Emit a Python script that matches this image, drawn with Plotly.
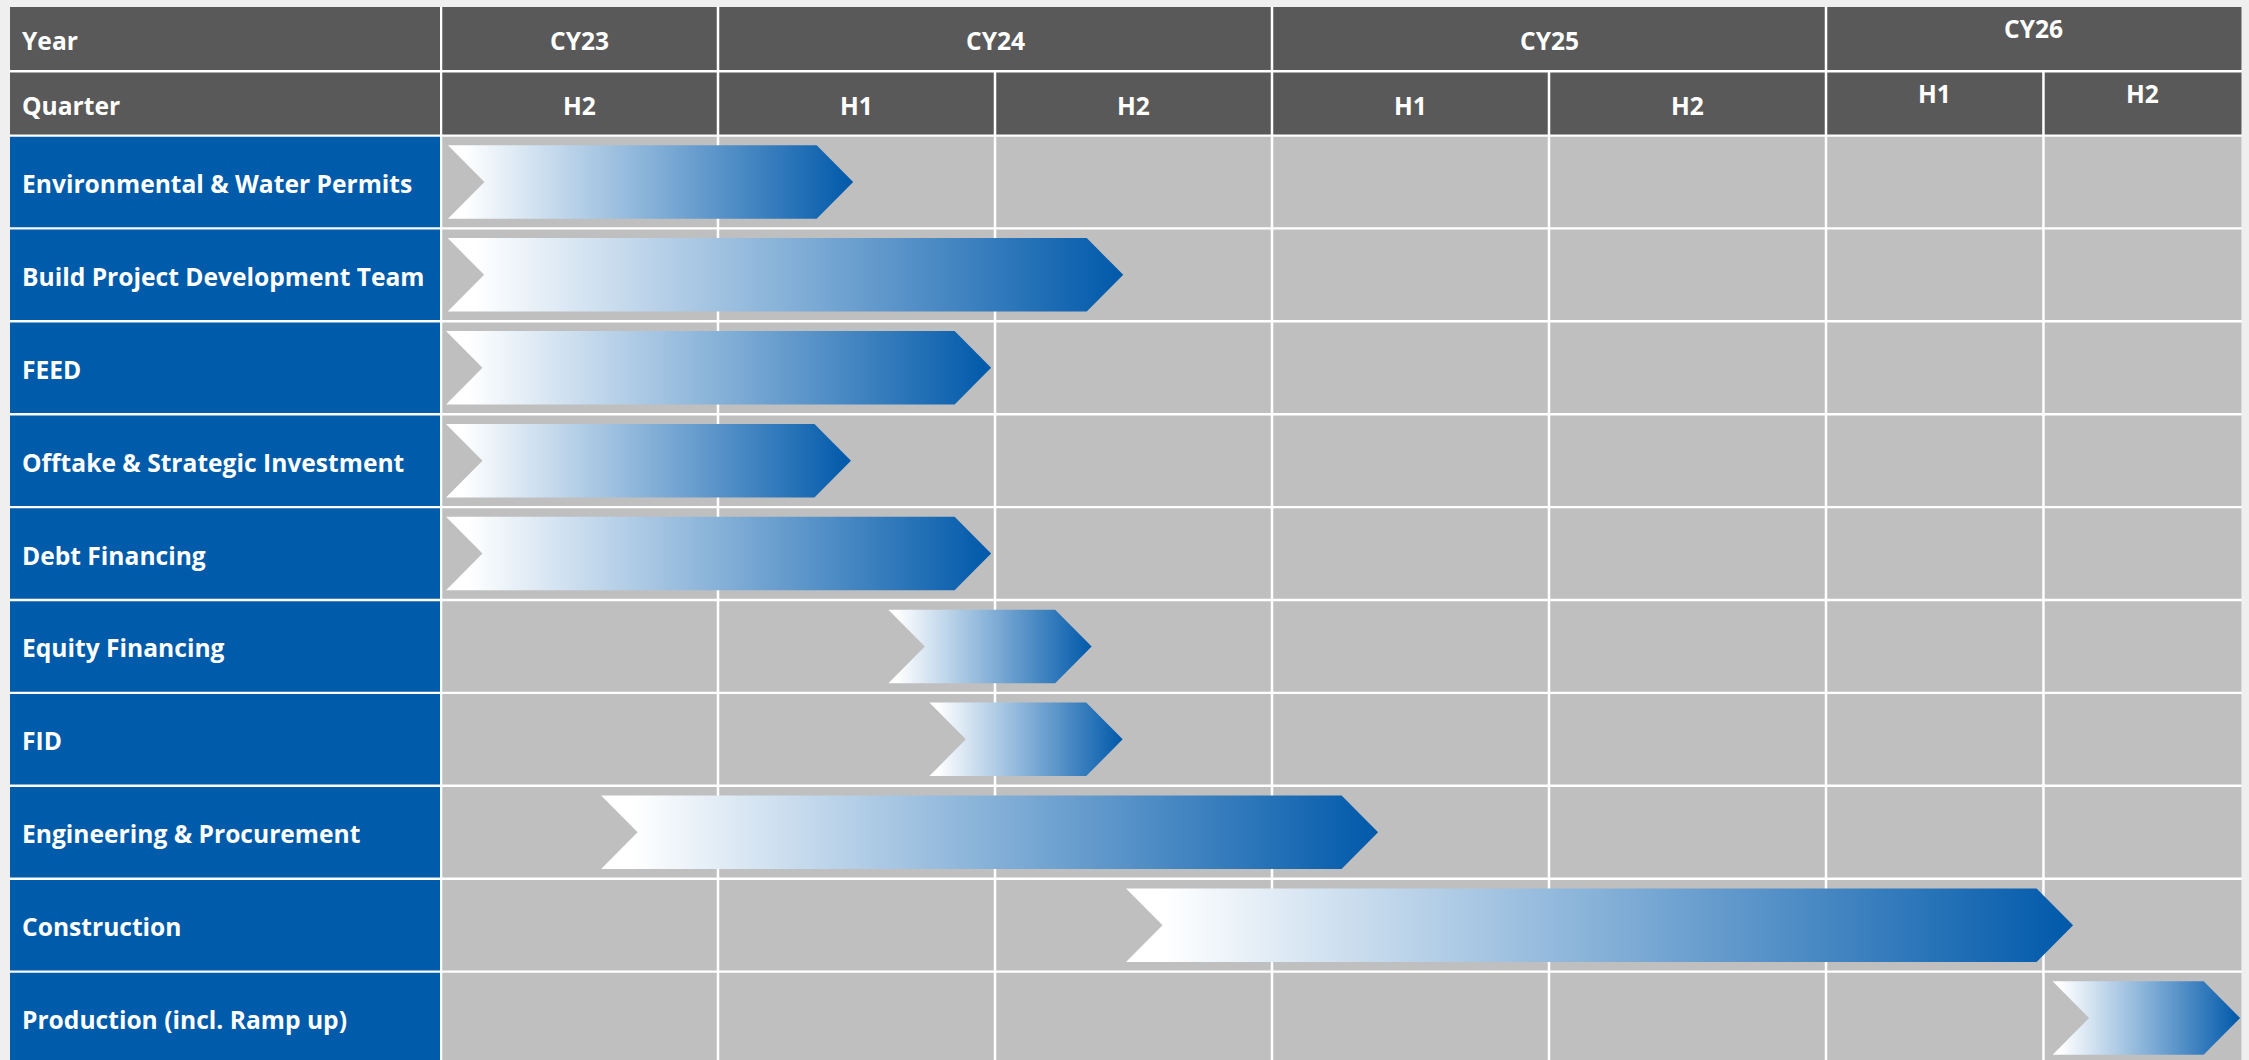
import plotly.graph_objects as go

# ---------------- data ----------------
tasks = [
    "Environmental & Water Permits",
    "Build Project Development Team",
    "FEED",
    "Offtake & Strategic Investment",
    "Debt Financing",
    "Equity Financing",
    "FID",
    "Engineering & Procurement",
    "Construction",
    "Production (incl. Ramp up)",
]
# start / end of each activity on the timeline axis (1 unit = one half-year column)
task_start = [0.025, 0.024, 0.018, 0.018, 0.018, 1.615, 1.763, 0.578, 2.473, 5.818]
task_end = [1.488, 2.463, 1.986, 1.480, 1.986, 2.349, 2.461, 3.383, 5.892, 6.495]

years = ["CY23", "CY24", "CY25", "CY26"]
year_span = [1, 2, 2, 2]          # number of half-year columns per year
halves = ["H2", "H1", "H2", "H1", "H2", "H1", "H2"]

# ---------------- layout constants ----------------
W, H = 2249, 1060
PX_X = 277.0          # pixels per timeline unit
X0_PX = 441.0         # pixel of timeline origin
PX_ROW = 92.9         # pixels per task row
ROW0_PX = 181.95      # pixel centre of first task row
col_widths = [1, 1, 1, 1, 1, 0.785, 0.715]

def xu(px):
    return (px - X0_PX) / PX_X

def yu(py):
    return (py - ROW0_PX) / PX_ROW

BG = "#EFEFEF"
HEAD = "#595959"
LABEL = "#005BAA"
CELL = "#BFBFBF"
FONT = "Open Sans"
FS = 24.6
TXT_DY = 1.5 / PX_ROW

gx = 1.25 / PX_X
half_row = 0.487
chev_h = 0.3955
notch = 36.5 / PX_X

edges = [0.0]
for w in col_widths:
    edges.append(edges[-1] + w)

lab_x0, lab_x1 = xu(10), xu(440)
h1_y0, h1_y1 = yu(7), yu(70)
h2_y0, h2_y1 = yu(72.5), yu(134.5)

shapes = []
annotations = []

def rect(x0, x1, y0, y1, color):
    shapes.append(dict(type="rect", xref="x", yref="y", x0=x0, x1=x1, y0=y0, y1=y1,
                       fillcolor=color, line=dict(width=0), layer="below"))

# white table background (gaps)
rect(lab_x0, edges[-1], h1_y0, len(tasks) + 1, "#FFFFFF")

# header label cells
rect(lab_x0, lab_x1, h1_y0, h1_y1, HEAD)
rect(lab_x0, lab_x1, h2_y0, h2_y1, HEAD)
annotations.append(dict(x=xu(20), y=(h1_y0 + h1_y1) / 2 + TXT_DY, text="<b>Year</b>", xanchor="left"))
annotations.append(dict(x=xu(20), y=(h2_y0 + h2_y1) / 2 + TXT_DY, text="<b>Quarter</b>", xanchor="left"))

# year header
ci = 0
for yi, (yr, sp) in enumerate(zip(years, year_span)):
    x0 = edges[ci] + gx
    x1 = edges[ci + sp] - (gx if ci + sp < len(col_widths) else 0)
    rect(x0, x1, h1_y0, h1_y1, HEAD)
    ty = (h1_y0 + h1_y1) / 2 + TXT_DY + (yu(26.7) - yu(38.5) if yr == "CY26" else 0)
    annotations.append(dict(x=(edges[ci] + edges[ci + sp]) / 2, y=ty, text=f"<b>{yr}</b>", xanchor="center"))
    ci += sp

# half-year header
for c, hl in enumerate(halves):
    x0 = edges[c] + gx
    x1 = edges[c + 1] - (gx if c + 1 < len(col_widths) else 0)
    rect(x0, x1, h2_y0, h2_y1, HEAD)
    ty = (h2_y0 + h2_y1) / 2 + TXT_DY + (yu(91.7) - yu(103.5) if c >= 5 else 0)
    annotations.append(dict(x=(edges[c] + edges[c + 1]) / 2, y=ty, text=f"<b>{hl}</b>", xanchor="center"))

# task rows
for i, t in enumerate(tasks):
    rect(lab_x0, lab_x1, i - half_row, i + half_row, LABEL)
    annotations.append(dict(x=xu(20), y=i + TXT_DY, text=f"<b>{t}</b>", xanchor="left"))
    for c in range(len(col_widths)):
        x0 = edges[c] + gx
        x1 = edges[c + 1] - (gx if c + 1 < len(col_widths) else 0)
        rect(x0, x1, i - half_row, i + half_row, CELL)

fig = go.Figure()

scale = [[0.0, "#FFFFFF"], [0.04, "#FFFFFF"], [0.5, "#86B1D8"], [1.0, "#0059AA"]]
for i, (s, e) in enumerate(zip(task_start, task_end)):
    xs = [s, e - notch, e, e - notch, s, s + notch, s]
    ys = [i - chev_h, i - chev_h, i, i + chev_h, i + chev_h, i, i - chev_h]
    fig.add_trace(go.Scatter(
        x=xs, y=ys, mode="lines", fill="toself",
        fillgradient=dict(type="horizontal", colorscale=scale, start=s, stop=e),
        line=dict(width=0, color="rgba(0,0,0,0)"),
        hoverinfo="skip", showlegend=False,
    ))

for a in annotations:
    a.update(xref="x", yref="y", yanchor="middle", showarrow=False,
             font=dict(family=FONT, size=FS, color="#FFFFFF"))

fig.update_layout(
    width=W, height=H,
    margin=dict(l=0, r=0, t=0, b=0),
    paper_bgcolor=BG, plot_bgcolor=BG,
    shapes=shapes, annotations=annotations,
    xaxis=dict(range=[xu(0), xu(W)], visible=False, fixedrange=True),
    yaxis=dict(range=[yu(H), yu(0)], visible=False, fixedrange=True),
    showlegend=False,
)

fig.write_html("out.html", config={"displayModeBar": False})
